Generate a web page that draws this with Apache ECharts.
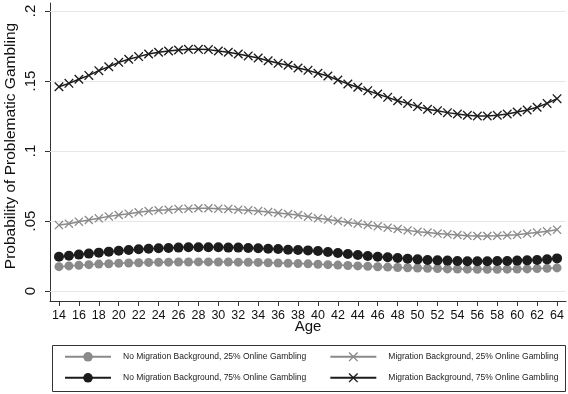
<!DOCTYPE html>
<html><head><meta charset="utf-8">
<script src="https://cdn.jsdelivr.net/npm/echarts@6/dist/echarts.min.js"></script>
<style>html,body{margin:0;padding:0;background:#fff}#c{width:568px;height:394px}</style>
</head><body><div id="c"></div>
<script>
const ages = [14,15,16,17,18,19,20,21,22,23,24,25,26,27,28,29,30,31,32,33,34,35,36,37,38,39,40,41,42,43,44,45,46,47,48,49,50,51,52,53,54,55,56,57,58,59,60,61,62,63,64];
const noMig25 = [0.0174,0.0179,0.0184,0.0188,0.0192,0.0195,0.0198,0.0200,0.0202,0.0204,0.0205,0.0206,0.0207,0.0207,0.0208,0.0208,0.0207,0.0207,0.0206,0.0205,0.0204,0.0202,0.0200,0.0198,0.0196,0.0194,0.0191,0.0188,0.0185,0.0182,0.0179,0.0176,0.0173,0.0171,0.0168,0.0166,0.0164,0.0162,0.0160,0.0158,0.0157,0.0156,0.0155,0.0155,0.0155,0.0156,0.0157,0.0158,0.0160,0.0162,0.0165];
const mig25 = [0.0471,0.0481,0.0495,0.0507,0.0519,0.0533,0.0543,0.0552,0.0562,0.0571,0.0576,0.0581,0.0586,0.0588,0.0591,0.0591,0.0588,0.0586,0.0581,0.0576,0.0571,0.0564,0.0557,0.0550,0.0543,0.0531,0.0519,0.0510,0.0500,0.0490,0.0481,0.0471,0.0462,0.0452,0.0443,0.0433,0.0424,0.0417,0.0410,0.0405,0.0400,0.0395,0.0393,0.0393,0.0395,0.0398,0.0402,0.0410,0.0417,0.0426,0.0438];
const noMig75 = [0.0245,0.0252,0.0260,0.0267,0.0274,0.0281,0.0288,0.0293,0.0298,0.0302,0.0305,0.0307,0.0310,0.0312,0.0312,0.0312,0.0312,0.0310,0.0310,0.0307,0.0305,0.0302,0.0300,0.0295,0.0293,0.0290,0.0286,0.0279,0.0271,0.0264,0.0257,0.0250,0.0245,0.0241,0.0236,0.0231,0.0226,0.0221,0.0219,0.0217,0.0214,0.0212,0.0212,0.0212,0.0214,0.0214,0.0217,0.0219,0.0221,0.0226,0.0233];
const mig75 = [0.1459,0.1483,0.1512,0.1540,0.1574,0.1602,0.1633,0.1655,0.1674,0.1693,0.1705,0.1714,0.1721,0.1726,0.1726,0.1724,0.1714,0.1705,0.1693,0.1679,0.1664,0.1645,0.1626,0.1612,0.1593,0.1576,0.1555,0.1536,0.1507,0.1479,0.1455,0.1431,0.1407,0.1383,0.1359,0.1340,0.1317,0.1298,0.1288,0.1274,0.1264,0.1255,0.1250,0.1250,0.1255,0.1264,0.1279,0.1293,0.1312,0.1340,0.1374];
const xTicks = [14,16,18,20,22,24,26,28,30,32,34,36,38,40,42,44,46,48,50,52,54,56,58,60,62,64];
const yTicks = [0,0.05,0.1,0.15,0.2];
const names = ['No Migration Background, 25% Online Gambling','Migration Background, 25% Online Gambling','No Migration Background, 75% Online Gambling','Migration Background, 75% Online Gambling'];

const FONT = 'Liberation Sans, Arial, sans-serif';
const GRAY = '#8a8a8a', BLACK = '#1c1c1c';
const XSYM = 'path://M1,0L5,4L9,0L10,1L6,5L10,9L9,10L5,6L1,10L0,9L4,5L0,1Z';
const pairs = arr => ages.map((a,i)=>[a,arr[i]]);

function mkSeries(name, data, color, symbol, size, withGrid){
  const s = {
    name, type:'line', data: pairs(data), symbol, symbolSize:size,
    lineStyle:{color, width:1.5}, itemStyle:{color, opacity:1},
    emphasis:{disabled:true}, z: 3
  };
  if (withGrid) {
    s.markLine = {silent:true, symbol:'none', label:{show:false},
      lineStyle:{color:'#e6e6e6', width:1, type:'solid'},
      data: yTicks.map(v=>({yAxis:v})), z:1};
  }
  return s;
}

const legendBase = {left:64, width:560, itemWidth:46, itemHeight:12, itemGap:23, padding:0, orient:'horizontal',
  textStyle:{fontFamily:FONT, fontSize:8.5, color:'#222', padding:[0,0,0,7]}, selectedMode:false};

const chart = echarts.init(document.getElementById('c'), null, {renderer:'canvas'});
chart.setOption({
  animation:false,
  backgroundColor:'#fff',
  grid:{left:50, right:2, top:3, bottom:93, containLabel:false, outerBoundsMode:'none'},
  xAxis:{type:'value', min:13.1, max:64.9,
    name:'Age', nameLocation:'middle', nameGap:18, nameMoveOverlap:false,
    nameTextStyle:{fontFamily:FONT, fontSize:15, color:'#111'},
    axisLine:{show:true, onZero:false, lineStyle:{color:'#333', width:1}},
    axisTick:{show:true, length:5, customValues:xTicks, lineStyle:{color:'#333'}},
    axisLabel:{customValues:xTicks, margin:8, fontFamily:FONT, fontSize:12.5, color:'#111'},
    splitLine:{show:false}},
  yAxis:{type:'value', min:-0.00714, max:0.2057,
    name:'Probability of Problematic Gambling', nameLocation:'middle', nameGap:31, nameRotate:90, nameMoveOverlap:false,
    nameTextStyle:{fontFamily:FONT, fontSize:15.5, color:'#111', padding:[0,0,0,12]},
    axisLine:{show:true, onZero:false, lineStyle:{color:'#333', width:1}},
    axisTick:{show:true, length:5, customValues:yTicks, lineStyle:{color:'#333'}},
    axisLabel:{customValues:yTicks, rotate:90, margin:12, fontFamily:FONT, fontSize:15, color:'#111',
      formatter: v => v===0 ? '0' : String(+v.toFixed(3)).replace(/^0/,'')},
    splitLine:{show:false}},
  legend:[
    Object.assign({}, legendBase, {data:[names[0],names[1]], top:352}),
    Object.assign({}, legendBase, {data:[names[2],names[3]], top:373})
  ],
  graphic:[{type:'rect', shape:{x:52.5, y:345.5, width:513, height:46},
    style:{fill:'none', stroke:'#333', lineWidth:1}, silent:true}],
  series:[
    mkSeries(names[0], noMig25, GRAY, 'circle', 9, true),
    mkSeries(names[1], mig25, GRAY, XSYM, 9, false),
    mkSeries(names[2], noMig75, BLACK, 'circle', 10, false),
    mkSeries(names[3], mig75, BLACK, XSYM, 9.5, false)
  ]
});
</script></body></html>
